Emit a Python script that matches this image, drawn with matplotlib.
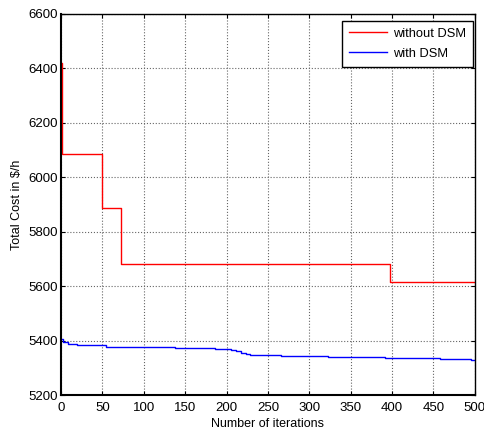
import matplotlib
matplotlib.use("Agg")
import matplotlib.pyplot as plt

# Data
red_iter = [0, 1, 50, 72, 397, 500]
red_cost = [6420, 6085, 5888, 5680, 5617, 5617]

blue_iter = [0, 3, 8, 19, 54, 94, 138, 186, 206, 212, 218, 224, 228, 266, 323, 391, 458, 496, 500]
blue_cost = [5405, 5395, 5388, 5382, 5378, 5376, 5373, 5369, 5366, 5362, 5356, 5350, 5347, 5344, 5339, 5336, 5331, 5328, 5328]

x_ticks = [0, 50, 100, 150, 200, 250, 300, 350, 400, 450, 500]
y_ticks = [5200, 5400, 5600, 5800, 6000, 6200, 6400, 6600]

plt.rcParams['font.family'] = ['Liberation Sans', 'DejaVu Sans']

fig = plt.figure(figsize=(4.84, 4.36), dpi=100)
ax = fig.add_axes([0.126, 0.094, 0.855, 0.874])

ax.plot(red_iter, red_cost, color='#ff0000', lw=1.0, drawstyle='steps-post', label='without DSM')
ax.plot(blue_iter, blue_cost, color='#0000ff', lw=1.0, drawstyle='steps-post', label='with DSM')

ax.set_xlim(0, 500)
ax.set_ylim(5200, 6600)
ax.set_xticks(x_ticks)
ax.set_yticks(y_ticks)
ax.tick_params(direction='in', top=True, right=True, labelsize=9.5, length=3, width=0.8)
ax.tick_params(axis='x', pad=5)
ax.tick_params(axis='y', pad=2)
ax.grid(True, color='#666666', linestyle=':', linewidth=0.8)
for s in ax.spines.values():
    s.set_linewidth(1.0)
    s.set_color('black')
ax.spines['left'].set_linewidth(1.5)
ax.spines['bottom'].set_linewidth(1.5)

ax.set_xlabel('Number of iterations', fontsize=9, labelpad=3)
ax.set_ylabel('Total Cost in \\$/h', fontsize=9, labelpad=4)

leg = ax.legend(loc='upper right', bbox_to_anchor=(0.995, 0.982), fontsize=9.3, frameon=True,
                fancybox=False, edgecolor='black', framealpha=1, borderaxespad=0.0,
                handlelength=3.0, handletextpad=0.4, borderpad=0.55, labelspacing=0.6)
leg.get_frame().set_linewidth(1.0)

fig.savefig('out.png', dpi=100)
